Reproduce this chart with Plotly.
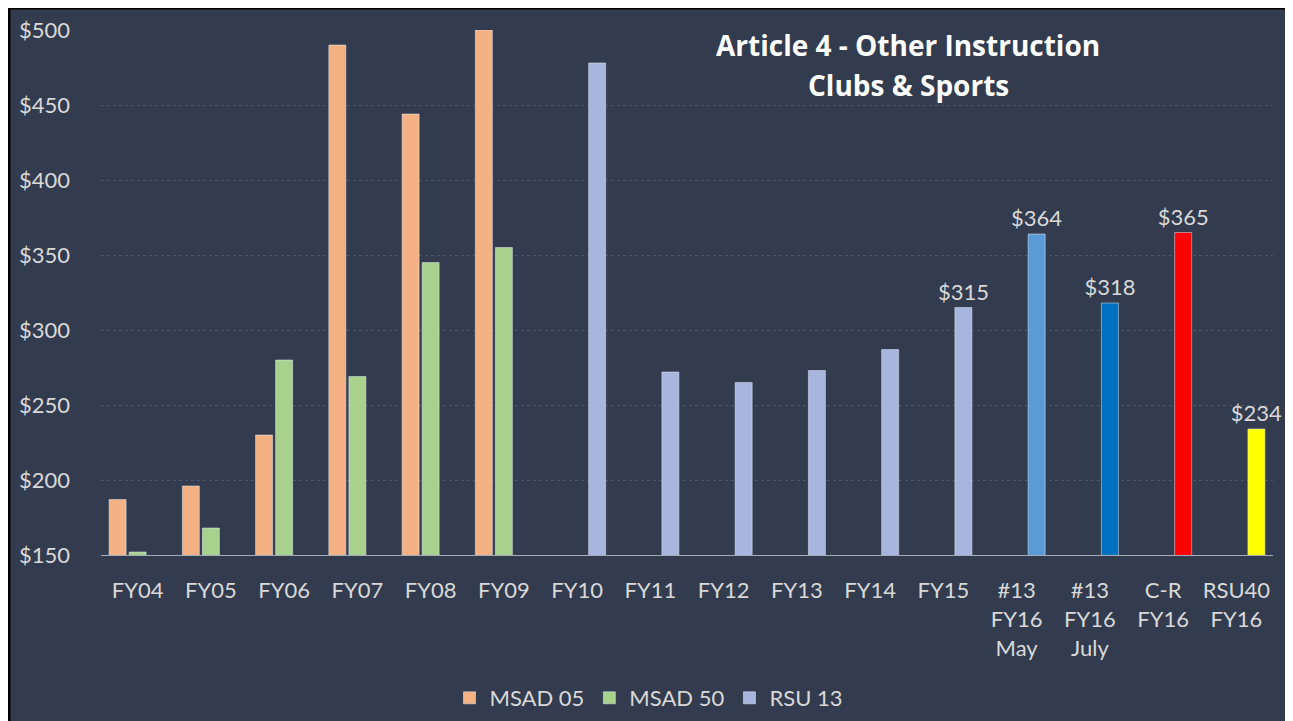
import plotly.graph_objects as go

categories = ["FY04", "FY05", "FY06", "FY07", "FY08", "FY09", "FY10", "FY11", "FY12",
              "FY13", "FY14", "FY15", "#13<br>FY16<br>May", "#13<br>FY16<br>July",
              "C-R<br>FY16", "RSU40<br>FY16"]
msad05 = [187, 196, 230, 490, 444, 500, None, None, None, None, None, None, None, None, None, None]
msad50 = [152, 168, 280, 269, 345, 355, None, None, None, None, None, None, None, None, None, None]
rsu13 = [None, None, None, None, None, None, 478, 272, 265, 273, 287, 315, 364, 318, 365, 234]
rsu13_labels = ["", "", "", "", "", "", "", "", "", "", "", "$315", "$364", "$318", "$365", "$234"]
title_lines = ["Article 4 - Other Instruction", "Clubs & Sports"]

C_BG = "#323c4e"
C_TXT = "#d9d9d9"
rsu_colors = ["#a8b5de"] * 12 + ["#5b9bd5", "#0070c0", "#ff0000", "#ffff00"]

FONT = "Lato, 'Open Sans', sans-serif"

fig = go.Figure()
fig.add_trace(go.Bar(name="MSAD 05", x=categories, y=msad05, marker=dict(color="#f4b183")))
fig.add_trace(go.Bar(name="MSAD 50", x=categories, y=msad50, marker=dict(color="#a9d18e")))
fig.add_trace(go.Bar(name="RSU 13", x=categories, y=rsu13, marker=dict(color=rsu_colors),
                     text=rsu13_labels, textposition="outside", cliponaxis=False,
                     constraintext="none",
                     textfont=dict(size=22, color=C_TXT, family=FONT)))

# page body has an 8px margin; work in screen pixels and convert
OFF = 8
W, H = 1282, 713
L, R, T, B = 101 - OFF, W - (1273 - OFF), 30 - OFF, H - (555 - OFF)
pw = W - L - R
ph = H - T - B

def px_x(sx):
    return (sx - OFF - L) / pw

def px_y(sy):
    return (H - B - (sy - OFF)) / ph

fig.add_shape(type="rect", xref="paper", yref="paper", layer="below",
              x0=px_x(9), x1=px_x(1288), y0=px_y(760), y1=px_y(8),
              fillcolor=C_BG, line=dict(color="black", width=3))

for line, ypix in zip(title_lines, [45, 85]):
    fig.add_annotation(text="<b>%s</b>" % line, xref="paper", yref="paper",
                       x=px_x(908), y=px_y(ypix), xanchor="center", yanchor="middle",
                       showarrow=False,
                       font=dict(size=28, color="white", family="'Open Sans', sans-serif"))

fig.update_layout(
    width=W, height=H,
    margin=dict(l=L, r=R, t=T, b=B, autoexpand=False),
    paper_bgcolor=C_BG,
    plot_bgcolor="rgba(0,0,0,0)",
    barmode="group",
    bargap=0.18,
    bargroupgap=0.15,
    font=dict(family=FONT, color=C_TXT, size=22),
    showlegend=True,
    legend=dict(orientation="h", x=px_x(649), xanchor="center", y=px_y(698), yanchor="middle",
                font=dict(size=22, color=C_TXT), bgcolor="rgba(0,0,0,0)"),
    xaxis=dict(showgrid=False, showline=True, linecolor="#a7adb8", linewidth=1,
               ticks="", tickfont=dict(size=22, color=C_TXT), ticklabelstandoff=16,
               zeroline=False, automargin=False),
    yaxis=dict(range=[150, 500], tickvals=[150, 200, 250, 300, 350, 400, 450, 500],
               ticktext=["$150", "$200", "$250", "$300", "$350", "$400", "$450", "$500"],
               showgrid=True, gridcolor="#4c5669", griddash="dot", gridwidth=1,
               zeroline=False, showline=False, ticks="", ticklabelstandoff=30,
               automargin=False, tickfont=dict(size=22, color=C_TXT)),
)

fig.write_html("out.html")
